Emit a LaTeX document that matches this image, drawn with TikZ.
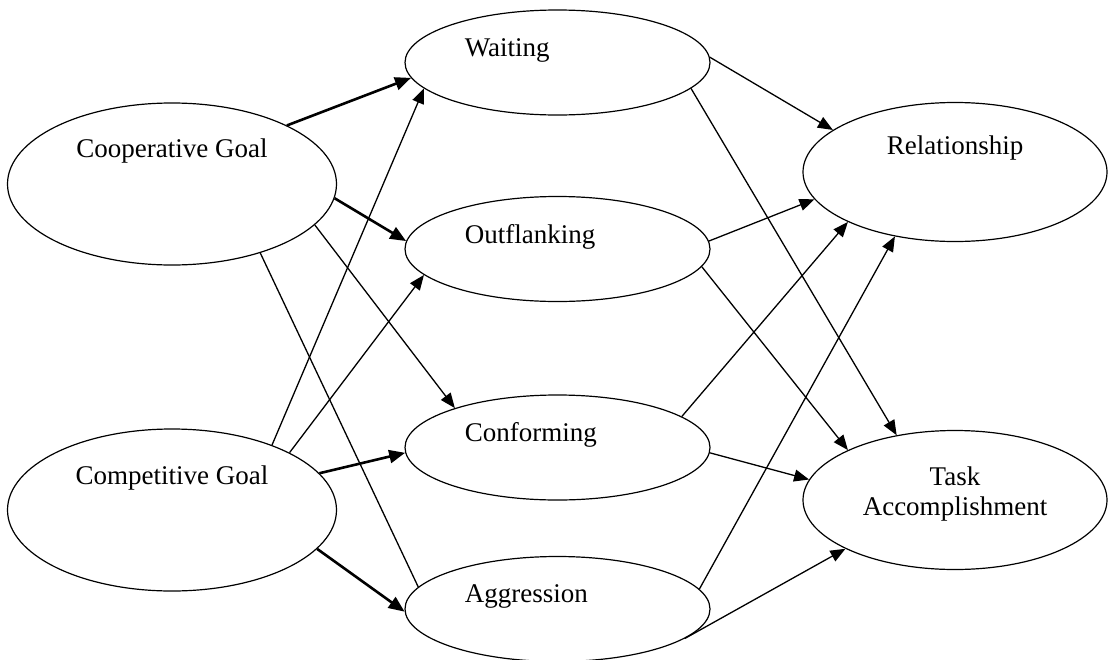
\documentclass[tikz,border=0pt]{standalone}
\usepackage{fontspec}
\setmainfont{Liberation Serif}
\usetikzlibrary{shapes.geometric, arrows.meta, calc}

\begin{document}
\begin{tikzpicture}[
  x=0.5pt, y=-0.5pt,
  goal/.style={ellipse, draw, line width=0.6pt, minimum width=164.5pt, minimum height=81pt, inner sep=0pt},
  strat/.style={ellipse, draw, line width=0.6pt, minimum width=152.5pt, minimum height=52.5pt, inner sep=0pt},
  outcome/.style={ellipse, draw, line width=0.6pt, minimum width=152pt, minimum height=69.5pt, inner sep=0pt},
  lbl/.style={inner sep=0pt, font=\fontsize{13.5}{15}\selectfont, align=center},
  arr/.style={-{Triangle[length=7.5pt, width=6pt]}, line width=0.65pt},
  barr/.style={-{Triangle[length=8pt, width=6.5pt]}, line width=1.3pt},
  link/.style={line width=0.65pt}
]
\useasboundingbox (0,0) rectangle (1109,659);

% Goals (left)
\node[goal] (coop) at (172,184) {};
\node[goal] (comp) at (172,510) {};
\node[lbl] (coop-t) at ($(coop)+(0,-32.5)$) {Cooperative Goal};
\node[lbl] (comp-t) at ($(comp)+(0,-32)$) {Competitive Goal};

% Strategies (middle)
\node[strat] (wait) at (557.5,62.5) {};
\node[strat] (outf) at (557.5,249) {};
\node[strat] (conf) at (557.5,447.5) {};
\node[strat] (aggr) at (557.5,609) {};
\node[lbl, anchor=west] (wait-t) at ($(wait)+(-93,-12.5)$) {Waiting};
\node[lbl, anchor=west] (outf-t) at ($(outf)+(-93,-12.5)$) {Outflanking};
\node[lbl, anchor=west] (conf-t) at ($(conf)+(-93,-12.5)$) {Conforming};
\node[lbl, anchor=west] (aggr-t) at ($(aggr)+(-93,-12.5)$) {Aggression};

% Outcomes (right)
\node[outcome] (rel) at (955,172) {};
\node[outcome] (task) at (955,500) {};
\node[lbl] (rel-t) at ($(rel)+(0,-24)$) {Relationship};
\node[lbl] (task-t) at ($(task)+(0,-6)$) {Task\\Accomplishment};

% Goals -> strategies
\draw[barr] (coop.27) -- (wait.186);
\draw[barr] (coop.-5) -- (outf.177);
\draw[arr] (coop.-16) -- (conf.159);
\draw[link] (coop.-38) -- (aggr.171);
\draw[arr] (comp.33) -- (wait.191);
\draw[arr] (comp.26) -- (outf.191);
\draw[barr] (comp.14) -- (conf.182);
\draw[barr] (comp.-15) -- (aggr.181);

% Strategies -> outcomes
\draw[arr] (wait.2) -- (rel.161);
\draw[arr] (wait.-11) -- (task.132);
\draw[arr] (outf.3) -- (rel.191);
\draw[arr] (outf.-7) -- (task.155);
\draw[arr] (conf.14) -- (rel.205);
\draw[arr] (conf.-2) -- (task.172);
\draw[arr] (aggr.8) -- (rel.227);
\draw[arr] (aggr.-13) -- (task.204);

\end{tikzpicture}
\end{document}
